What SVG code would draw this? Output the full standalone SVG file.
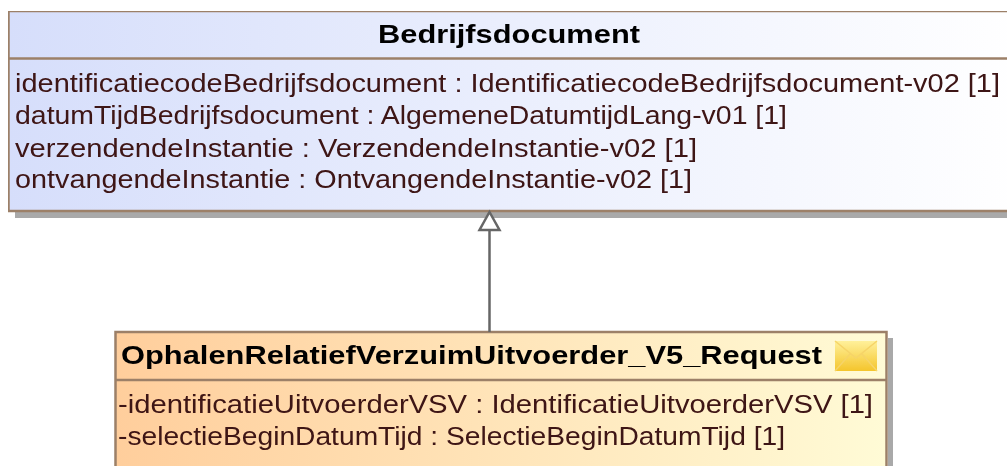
<svg xmlns="http://www.w3.org/2000/svg" width="1007" height="466" viewBox="0 0 1007 466">
<style>
.box{stroke:#9c8068;stroke-width:2.500}
.div{stroke:#9c8068;stroke-width:2.500;fill:none}
.shadow{fill:#a9a9a9}
.title{font-family:"Liberation Sans",Arial,sans-serif;font-size:26px;font-weight:bold;fill:#050505}
.attr{font-family:"Liberation Sans",Arial,sans-serif;font-size:26px;fill:#3d1212}
.conn{stroke:#666;stroke-width:2.500;fill:none}
.head{stroke:#666;stroke-width:2.500;fill:#fff}
</style>
<defs>
<linearGradient id="blue" x1="0" y1="0" x2="1" y2="0"><stop offset="0" stop-color="#d6defb"/><stop offset="1" stop-color="#ffffff"/></linearGradient>
<linearGradient id="orange" x1="0" y1="0" x2="1" y2="0"><stop offset="0" stop-color="#ffce9c"/><stop offset="1" stop-color="#fffbd6"/></linearGradient>
<linearGradient id="env" x1="0" y1="0" x2="0" y2="1"><stop offset="0" stop-color="#fff09a"/><stop offset="1" stop-color="#f4c52c"/></linearGradient>
<filter id="soft" x="0" y="0" width="100%" height="100%"><feGaussianBlur stdDeviation="0.450"/></filter>
</defs>
<rect width="1007" height="466" fill="#fff"/>
<g filter="url(#soft)">
<g id="node-bedrijfsdocument">
<rect class="shadow" x="15" y="212" width="1000" height="6"/>
<rect class="box" x="8.500" y="11" width="1010" height="200" fill="url(#blue)"/>
<path class="div" d="M8.500 58.500H1020"/>
<text class="title" x="378" y="43" textLength="262" lengthAdjust="spacingAndGlyphs">Bedrijfsdocument</text>
<text class="attr" x="15" y="91.500" textLength="985" lengthAdjust="spacingAndGlyphs">identificatiecodeBedrijfsdocument : IdentificatiecodeBedrijfsdocument-v02 [1]</text>
<text class="attr" x="15" y="124" textLength="772" lengthAdjust="spacingAndGlyphs">datumTijdBedrijfsdocument : AlgemeneDatumtijdLang-v01 [1]</text>
<text class="attr" x="15" y="156.500" textLength="682" lengthAdjust="spacingAndGlyphs">verzendendeInstantie : VerzendendeInstantie-v02 [1]</text>
<text class="attr" x="15" y="188" textLength="677" lengthAdjust="spacingAndGlyphs">ontvangendeInstantie : OntvangendeInstantie-v02 [1]</text>
</g>
<g id="node-request">
<rect class="shadow" x="888" y="338" width="5" height="140"/>
<rect class="box" x="115.500" y="332" width="771" height="150" fill="url(#orange)"/>
<path class="div" d="M115.500 380H886.500"/>
<text class="title" x="121" y="363.500" textLength="701" lengthAdjust="spacingAndGlyphs">OphalenRelatiefVerzuimUitvoerder_V5_Request</text>
<rect x="835" y="341" width="42" height="30" fill="url(#env)"/>
<path d="M835 341L856 358L877 341M835 371L850 354M877 371L862 354" fill="none" stroke="#f6d468" stroke-width="1.500"/>
<text class="attr" x="118" y="412.500" textLength="755" lengthAdjust="spacingAndGlyphs">-identificatieUitvoerderVSV : IdentificatieUitvoerderVSV [1]</text>
<text class="attr" x="118" y="444.500" textLength="667" lengthAdjust="spacingAndGlyphs">-selectieBeginDatumTijd : SelectieBeginDatumTijd [1]</text>
</g>
<g id="connectors">
<path class="conn" d="M489.500 230V332"/>
<path class="head" d="M489.500 212L499.500 230H479.500Z"/>
</g>
</g>
</svg>
